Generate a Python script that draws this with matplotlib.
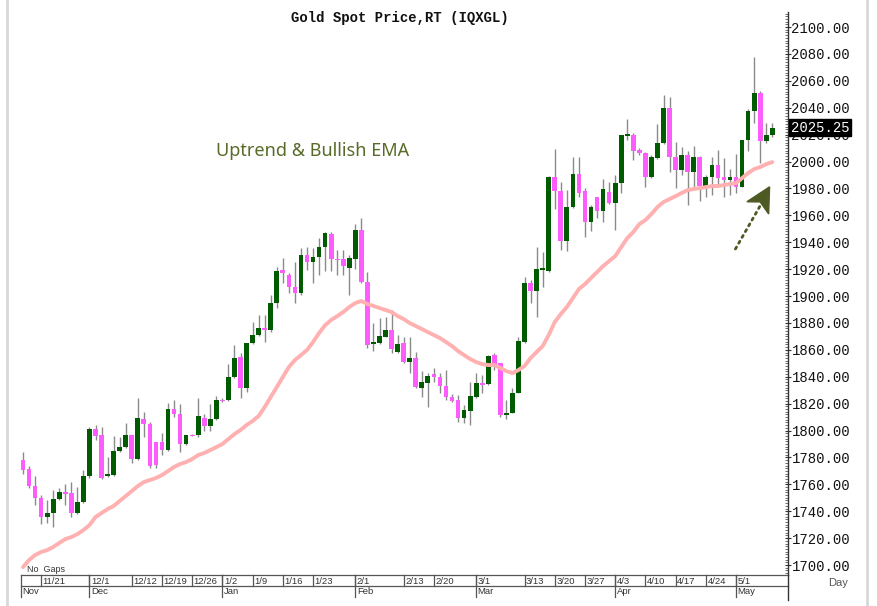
import matplotlib
matplotlib.use("Agg")
import matplotlib.pyplot as plt
import numpy as np
import pandas as pd
from matplotlib.patches import Polygon
from matplotlib.lines import Line2D
from matplotlib.ticker import MultipleLocator

# ---------------- data ----------------
dates = pd.bdate_range("2022-11-16", "2023-05-09")

opens = [1778, 1771.4, 1758.7, 1749.8, 1735.7, 1738.6, 1749, 1754, 1753.5, 1738.6,
         1747, 1766, 1801, 1796.7, 1766, 1767, 1784.7, 1787.6, 1796.7, 1778.8,
         1808.5, 1804.8, 1791.4, 1791.4, 1785.5, 1816, 1812.3, 1790, 1796.7, 1796.7,
         1809.3, 1803.3, 1808.5, 1823, 1822.7, 1840, 1854.7, 1832, 1865, 1871,
         1876, 1874.6, 1894.8, 1919.3, 1915.6, 1906.7, 1902.2, 1930.5, 1925, 1929,
         1936.4, 1946, 1927.5, 1927.5, 1920.8, 1927.5, 1949, 1910.4, 1864, 1865,
         1869.5, 1874.7, 1858.3, 1865, 1851, 1854, 1831.6, 1835.3, 1842, 1839.8,
         1833, 1824.9, 1822.7, 1809, 1814.5, 1825, 1835.3, 1834.6, 1856, 1850,
         1811.5, 1813, 1827.9, 1866, 1909.7, 1903.7, 1920, 1919, 1988.5, 1978,
         1941, 1966, 1990.7, 1978, 1955, 1973.6, 1963.3, 1977.3, 1969, 1984,
         2019.7, 2019.7, 2008.5, 2006.3, 1988.5, 2002.5, 2013.7, 2039.8, 2003.3, 1993.7,
         2004.8, 1992, 2003.3, 1981.8, 1988.5, 1997.4, 1988.5, 1986.2, 1988.5, 1981,
         2016, 2037.5, 2051, 2015, 2019.7]
highs = [1784, 1773.6, 1766, 1752, 1748, 1756, 1757, 1760, 1762, 1758,
         1770.6, 1802.6, 1804, 1803, 1780, 1796, 1795, 1805.6, 1797, 1824,
         1814, 1806, 1791.4, 1798, 1820.5, 1823, 1819.7, 1797, 1797.5, 1824,
         1812, 1819.7, 1825.6, 1824, 1849.4, 1863.6, 1857.6, 1865, 1880.6, 1885.8,
         1886, 1900.7, 1921.6, 1928, 1917, 1925, 1935.7, 1936.4, 1935.7, 1943,
         1947.6, 1947.6, 1934, 1934, 1930.5, 1953.5, 1958, 1917.8, 1880, 1883.6,
         1884.4, 1889.6, 1871, 1869.5, 1869.5, 1858.4, 1844, 1842.7, 1846.5, 1842.7,
         1845, 1827, 1826.4, 1819, 1836, 1842.7, 1841, 1856, 1857.6, 1850,
         1822.7, 1831.6, 1869.5, 1914, 1912, 1936.4, 1932.7, 1989, 2009.3, 1984.8,
         1979, 2003.3, 2003.3, 1980, 1967.7, 1973.6, 1987, 1984.8, 1990, 2019.7,
         2031.6, 2021.2, 2010, 2007, 2004.8, 2027.9, 2049.5, 2048, 2014.5, 2010.8,
         2007.8, 2011.5, 2004, 1990, 2003.3, 2008.5, 2002.6, 1994.4, 2005.6, 2016,
         2039, 2078, 2052.4, 2029, 2028.6]
lows = [1768, 1757, 1745, 1730.5, 1731, 1728, 1748, 1745, 1736, 1738,
        1746, 1765, 1793, 1764, 1765.5, 1766, 1784, 1787, 1776, 1778,
        1795, 1772, 1772, 1782, 1785, 1810, 1784, 1789.5, 1796, 1795,
        1800, 1800, 1807.8, 1821, 1822, 1839, 1824, 1828.6, 1864, 1870,
        1866, 1873, 1891, 1910, 1902, 1895, 1900.7, 1919.3, 1910, 1915.6,
        1919, 1919, 1915.6, 1915.6, 1900.7, 1920, 1910, 1861.3, 1859, 1864.4,
        1869.5, 1857.6, 1857.6, 1850, 1842.7, 1831.6, 1825, 1817.5, 1836, 1828,
        1822.7, 1821.2, 1806.3, 1805.6, 1804, 1824, 1828, 1834, 1845, 1810,
        1808.5, 1813, 1827.9, 1865, 1895, 1884.4, 1906.7, 1918, 1964.7, 1934.2,
        1933.5, 1965.4, 1974, 1943.9, 1948.3, 1958, 1955, 1968.4, 1949, 1976.6,
        2016, 2001, 2005, 1981, 1987.7, 2002, 2013, 1992, 1980, 1990,
        1968, 1981, 1971, 1973.6, 1975, 1983, 1973.6, 1975, 1976.6, 1981,
        2007.8, 2029, 1999, 2013.7, 2018]
closes = [1770.6, 1758.7, 1749.8, 1735.7, 1738.6, 1749, 1754.3, 1753, 1738.6, 1747,
          1766, 1801, 1796, 1765, 1767.6, 1784.7, 1787.6, 1796.7, 1778.8, 1809,
          1804.8, 1773.6, 1774.4, 1785.5, 1816, 1812.3, 1790, 1796.7, 1796.5, 1810.8,
          1803.3, 1808.5, 1822.7, 1822, 1840, 1854, 1831.6, 1865, 1871, 1876,
          1875, 1894.8, 1918.6, 1917, 1906.7, 1902.2, 1930.5, 1925, 1929, 1936.4,
          1946.8, 1927.5, 1927, 1922.3, 1928.2, 1949, 1910.4, 1863.6, 1865.8, 1870.2,
          1874.7, 1860.6, 1864.4, 1851, 1854, 1832.3, 1836, 1840.5, 1839.8, 1833,
          1824.9, 1822, 1809, 1815, 1825.6, 1835.3, 1833.8, 1855.5, 1848.7, 1811.5,
          1813, 1827.9, 1866.6, 1909.7, 1903.7, 1920, 1920.3, 1988.5, 1978, 1941,
          1966, 1990.7, 1976.6, 1955, 1966, 1963.3, 1979.6, 1969, 1984, 2019.7,
          2019.9, 2007.8, 2006.3, 1988.5, 2003.3, 2013.7, 2039.8, 2003.3, 1993.7, 2004.8,
          1992, 2003.3, 1981.8, 1988.5, 1997.4, 1987.7, 1986.2, 1988.5, 1981, 2016,
          2037.5, 2051, 2015, 2019.7, 2025.25]
ema = [1698.5, 1703.7, 1707.4, 1709.7, 1711.1, 1713.4, 1716.4, 1719.3, 1720.8, 1723.0,
       1726.0, 1729.7, 1735.7, 1738.7, 1741.6, 1743.9, 1747.6, 1751.3, 1755.0, 1758.7,
       1761.7, 1763.2, 1764.7, 1766.9, 1769.9, 1772.9, 1775.1, 1776.6, 1778.8, 1781.8,
       1783.3, 1785.5, 1787.7, 1790.0, 1793.7, 1797.4, 1800.4, 1804.1, 1807.1, 1810.8,
       1817.5, 1824.9, 1832.3, 1839.8, 1847.2, 1852.4, 1856.1, 1859.9, 1865.8, 1872.5,
       1878.4, 1882.2, 1885.1, 1888.1, 1891.8, 1894.8, 1896.3, 1894.1, 1892.6, 1891.1,
       1889.6, 1888.1, 1885.1, 1882.9, 1879.9, 1877.7, 1875.5, 1873.2, 1871.0, 1868.8,
       1865.8, 1862.8, 1859.1, 1856.1, 1853.2, 1850.9, 1849.4, 1848.7, 1848.7, 1846.5,
       1844.2, 1842.7, 1845.0, 1848.0, 1853.9, 1858.4, 1862.8, 1871.0, 1880.7, 1886.6,
       1891.8, 1898.5, 1905.2, 1908.9, 1913.4, 1917.8, 1922.3, 1926.0, 1929.7, 1936.4,
       1943.1, 1947.6, 1953.5, 1956.5, 1961.0, 1966.2, 1969.9, 1972.1, 1974.3, 1976.6,
       1978.8, 1979.6, 1980.3, 1981.0, 1981.8, 1981.8, 1982.5, 1983.3, 1984.0, 1987.7,
       1991.4, 1994.4, 1995.9, 1998.1, 1999.6]

date_ticks = ["11/21", "12/1", "12/12", "12/19", "12/26", "1/2", "1/9", "1/16", "1/23",
              "2/1", "2/13", "2/20", "3/1", "3/13", "3/20", "3/27", "4/3", "4/10",
              "4/17", "4/24", "5/1"]
month_names = ["Nov", "Dec", "Jan", "Feb", "Mar", "Apr", "May"]
y_ticks = list(range(1700, 2101, 20))
last_price = 2025.25

title = "Gold Spot Price,RT (IQXGL)"
note = "Uptrend & Bullish EMA"

# ---------------- figure ----------------
W, H = 878, 606
fig = plt.figure(figsize=(W / 100, H / 100), dpi=100)
fig.patch.set_facecolor("white")

def fx(px):
    return px / W

def fy(py):
    return 1 - py / H

ax_l, ax_r, ax_t, ax_b = 19, 788, 12, 575
ax = fig.add_axes([fx(ax_l), fy(ax_b), fx(ax_r - ax_l), (ax_b - ax_t) / H])

n = len(dates)
x = np.arange(n)
o = np.array(opens); h = np.array(highs); l = np.array(lows); c = np.array(closes)
up = c >= o
GREEN = "#005a00"
PINK = "#ff5cff"

ax.vlines(x, l, h, color="#8a8a8a", lw=1.0, zorder=2)
body_h = np.where(np.abs(c - o) < 0.9, 0.9, np.abs(c - o))
body_b = np.minimum(o, c)
body_b = np.where(np.abs(c - o) < 0.9, (o + c) / 2 - 0.45, body_b)
ax.bar(x[up], body_h[up], bottom=body_b[up], width=0.78, color=GREEN, lw=0, zorder=3)
ax.bar(x[~up], body_h[~up], bottom=body_b[~up], width=0.78, color=PINK, lw=0, zorder=3)

ax.plot(x, ema, color="#ffb0b0", lw=2.8, solid_capstyle="round", zorder=4)

ax.set_xlim(-0.66, 126.6)
ax.set_ylim(1692.6, 2111.2)

for s in ["left", "top", "bottom"]:
    ax.spines[s].set_visible(False)
ax.spines["right"].set_color("#333333")
ax.spines["right"].set_linewidth(1.0)
ax.set_xticks([])
ax.yaxis.tick_right()
ax.set_yticks(y_ticks)
ax.set_yticklabels([f"{v:.2f}" for v in y_ticks], fontfamily="Liberation Mono",
                   fontsize=10, color="#111111")
ax.yaxis.set_minor_locator(MultipleLocator(2))
ax.tick_params(axis="y", which="major", direction="inout", length=5, width=0.8,
               pad=0, color="#333333")
ax.tick_params(axis="y", which="minor", direction="in", length=2, width=0.6,
               color="#555555")

# last price tag (covers the 2020.00 label, as in the reference)
ax.annotate(f"{last_price:.2f}", xy=(1.0, last_price), xycoords=("axes fraction", "data"),
            xytext=(2, 0), textcoords="offset points", va="center", ha="left",
            fontfamily="Liberation Mono", fontsize=10, color="white", zorder=10,
            bbox=dict(boxstyle="square,pad=0.12", fc="black", ec="black"),
            annotation_clip=False)

# title
fig.text(fx(400), fy(18), title, ha="center", va="center",
         fontfamily="Liberation Mono", fontweight="bold", fontsize=10, color="#111111")

# annotation text
ax.text(32.0, 2007.5, note, color="#586b28", fontsize=13, fontfamily="Noto Sans",
        ha="left", va="center")

# dotted arrow
ax.plot([117.9, 122.3], [1935.0, 1969.5], color="#4e5a24", lw=2.0,
        linestyle=(0, (0.8, 1.6)), dash_capstyle="round", zorder=6)
ax.add_patch(Polygon([[123.55, 1981.2], [119.8, 1970.1], [122.0, 1970.0],
                      [123.4, 1961.0]], closed=True, fc="#4e5a24", ec="#4e5a24",
                     zorder=7))

# ---------------- x date table ----------------
tab_top, tab_mid, tab_bot = 575, 586, 597
line_c = "#555555"
x0_px, x1_px = 21, ax_r
fig.add_artist(Line2D([fx(x0_px), fx(x1_px)], [fy(tab_top)] * 2, color=line_c, lw=0.9))
fig.add_artist(Line2D([fx(x0_px), fx(x1_px)], [fy(tab_mid)] * 2, color=line_c, lw=0.9))
fig.add_artist(Line2D([fx(ax_r), fx(ax_r)], [fy(tab_top), fy(tab_bot + 3)], color="#333333", lw=1.0))

def idx_px(i):
    return ax.transData.transform((i, 0))[0]

fig.canvas.draw()
labels_md = [f"{d.month}/{d.day}" for d in dates]
for t in date_ticks:
    i = labels_md.index(t)
    px = idx_px(i)
    fig.add_artist(Line2D([px / W, px / W], [fy(tab_top), fy(tab_mid)], color=line_c, lw=0.9))
    fig.text(px / W + 1.5 / W, fy(581), t, ha="left", va="center", fontsize=6.8,
             fontfamily="Liberation Sans", color="#333333")

month_first = {}
for i, d in enumerate(dates):
    key = d.strftime("%b")
    if key not in month_first:
        month_first[key] = i
for k, m in enumerate(month_names):
    i = month_first[m]
    px = idx_px(i) if k > 0 else x0_px
    fig.add_artist(Line2D([px / W, px / W], [fy(tab_top), fy(tab_bot)], color=line_c, lw=0.9))
    fig.text(px / W + 1.5 / W, fy(591.5), m, ha="left", va="center", fontsize=6.8,
             fontfamily="Liberation Sans", color="#333333")

fig.text(fx(27), fy(569), "No  Gaps", ha="left", va="center", fontsize=6.5,
         fontfamily="Liberation Sans", color="#333333")
fig.text(fx(838), fy(583), "Day", ha="center", va="center", fontsize=8,
         fontfamily="Liberation Sans", color="#555555")

# panel border lines
fig.add_artist(Line2D([fx(7), fx(7)], [0, 1], color="#d8d8d8", lw=2))
fig.add_artist(Line2D([fx(867), fx(867)], [0, 1], color="#d8d8d8", lw=2))

fig.savefig("out.png", dpi=100, facecolor="white")
